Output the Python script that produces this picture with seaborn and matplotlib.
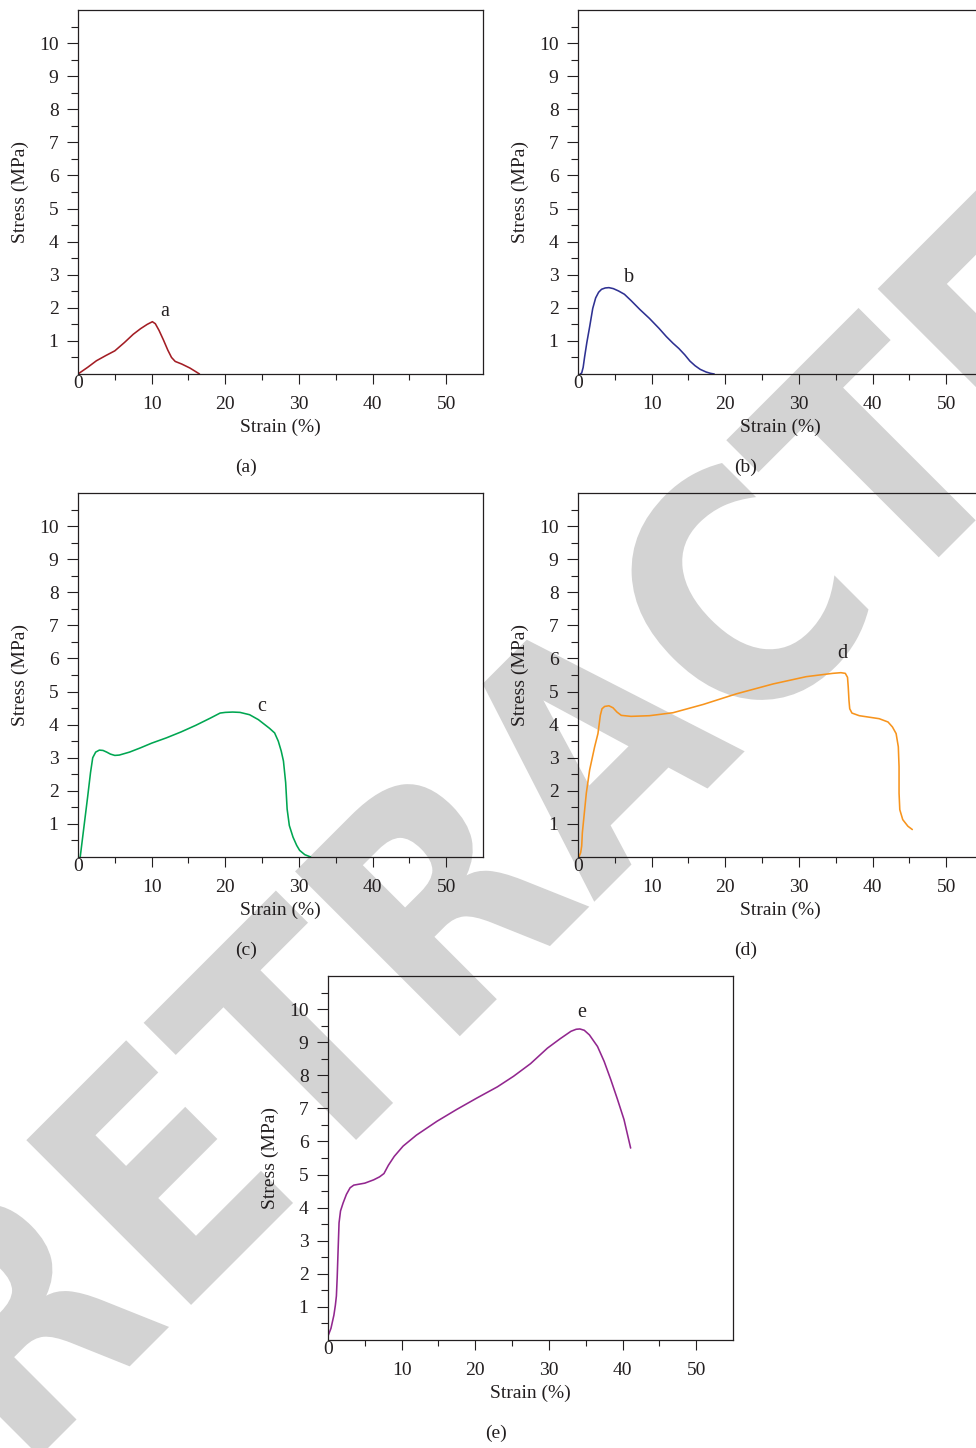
import numpy as np
import matplotlib
matplotlib.use("Agg")
import matplotlib.pyplot as plt
import seaborn as sns
from matplotlib.textpath import TextPath
from matplotlib.patches import PathPatch
from matplotlib.transforms import Affine2D, IdentityTransform, offset_copy
from matplotlib.font_manager import FontProperties

# ---------------- data ----------------
strain_a = [0, 1.3, 2.5, 3.8, 5.0, 6.3, 7.5, 8.5, 9.4, 10.1, 10.5, 11.0, 11.6, 12.2, 12.7, 13.2, 14.1, 15.2, 16.0, 16.5]
stress_a = [0, 0.2, 0.4, 0.56, 0.7, 0.95, 1.2, 1.37, 1.5, 1.58, 1.52, 1.32, 1.03, 0.72, 0.5, 0.38, 0.3, 0.18, 0.07, 0.0]

strain_b = [0.3, 0.5, 0.7, 0.9, 1.2, 1.6, 2.0, 2.4, 2.8, 3.2, 3.7, 4.2, 4.8, 5.5, 6.3, 7.2, 8.4, 9.7, 11.0,
            12.0, 12.9, 13.7, 14.5, 15.2, 15.9, 16.6, 17.4, 18.0, 18.5]
stress_b = [0, 0.03, 0.2, 0.52, 0.95, 1.45, 1.98, 2.3, 2.47, 2.56, 2.6, 2.61, 2.58, 2.51, 2.41, 2.22, 1.95, 1.68, 1.38,
            1.13, 0.93, 0.77, 0.58, 0.39, 0.25, 0.14, 0.06, 0.02, 0]

strain_c = [0.3, 0.8, 1.3, 1.7, 2.0, 2.4, 2.9, 3.4, 3.9, 4.4, 5.0, 5.6, 7.0, 8.5, 10.0, 12.0, 14.0, 16.0, 18.0,
            19.3, 20.0, 21.0, 22.0, 23.3, 24.5, 26.0, 26.7, 27.2, 27.6, 27.9, 28.2, 28.4, 28.7, 29.2, 29.7,
            30.1, 30.8, 31.6]
stress_c = [0, 0.9, 1.8, 2.55, 3.0, 3.17, 3.23, 3.22, 3.17, 3.11, 3.07, 3.08, 3.17, 3.3, 3.44, 3.6, 3.78, 3.98, 4.2,
            4.35, 4.37, 4.38, 4.37, 4.3, 4.15, 3.89, 3.75, 3.5, 3.2, 2.9, 2.25, 1.45, 0.95, 0.6, 0.35,
            0.2, 0.07, 0]

strain_d = [0.0, 0.14, 0.36, 0.5, 0.59, 0.77, 1.13, 1.58, 2.26, 2.71, 3.03, 3.26, 3.62, 4.2, 4.75, 5.29, 5.88, 7.2,
            9.7, 12.9, 17.0, 21.5, 26.5, 31.0, 34.6, 35.7, 36.3, 36.6, 36.7, 36.8, 36.9, 37.2, 38.2, 40.9,
            42.1, 42.7, 43.2, 43.5, 43.6, 43.6, 43.7, 44.1, 44.8, 45.4]
stress_d = [0.0, 0.01, 0.13, 0.33, 0.73, 1.13, 1.93, 2.63, 3.33, 3.73, 4.28, 4.48, 4.55, 4.57, 4.51, 4.38, 4.28, 4.25,
            4.27, 4.36, 4.61, 4.93, 5.23, 5.45, 5.55, 5.57, 5.55, 5.43, 5.13, 4.73, 4.48, 4.35, 4.27, 4.18,
            4.08, 3.93, 3.73, 3.33, 2.73, 1.93, 1.43, 1.13, 0.93, 0.83]

strain_e = [0, 0.4, 0.8, 1.0, 1.14, 1.25, 1.36, 1.5, 1.7, 2.05, 2.5, 3.0, 3.5, 5.0, 6.2, 7.0, 7.6, 8.2, 9.0, 10.2,
            12.0, 14.8, 17.5, 20.2, 23.0, 25.2, 27.5, 29.8, 31.5, 33.0, 33.7, 34.2, 34.8, 35.5, 36.6, 37.5,
            38.4, 39.3, 40.2, 41.1]
stress_e = [0.12, 0.35, 0.75, 1.05, 1.33, 1.9, 2.64, 3.54, 3.9, 4.14, 4.4, 4.6, 4.68, 4.74, 4.84, 4.93, 5.03, 5.28,
            5.55, 5.86, 6.19, 6.61, 6.97, 7.31, 7.65, 7.97, 8.35, 8.82, 9.1, 9.33, 9.39, 9.40, 9.36, 9.22,
            8.87, 8.42, 7.87, 7.28, 6.66, 5.8]

curve_names = ["a", "b", "c", "d", "e"]
captions = ["(a)", "(b)", "(c)", "(d)", "(e)"]
label_pos = [(11.8, 1.88), (6.9, 2.93), (25.0, 4.55), (35.9, 6.15), (34.4, 9.9)]
x_major = [10, 20, 30, 40, 50]
x_minor = [5, 15, 25, 35, 45]
y_major = [1, 2, 3, 4, 5, 6, 7, 8, 9, 10]
y_minor = [0.5, 1.5, 2.5, 3.5, 4.5, 5.5, 6.5, 7.5, 8.5, 9.5, 10.5]
watermark = "RETRACTED"

colors = ["#a31d24", "#2e3192", "#00a651", "#f7941d", "#92278f"]
data = [(strain_a, stress_a), (strain_b, stress_b), (strain_c, stress_c),
        (strain_d, stress_d), (strain_e, stress_e)]

# ---------------- style ----------------
sns.set_style("ticks")
plt.rcParams['font.family'] = ['Liberation Serif', 'DejaVu Serif']
INK = "#231f20"
FS = 14

W, H = 976, 1448
fig = plt.figure(figsize=(W / 100, H / 100), dpi=100)
fig.patch.set_facecolor("white")

# axes boxes in pixels: left, top, right, bottom
boxes = [(78, 10, 483, 374), (578, 10, 983, 374),
         (78, 493, 483, 857), (578, 493, 983, 857),
         (328, 976, 733, 1340)]

# ---------------- watermark behind everything ----------------
fp = FontProperties(family='DejaVu Sans', weight='bold')
tp = TextPath((0, 0), watermark, size=100, prop=fp)
full_right = tp.vertices[:, 0].max()


def left_of(sub):
    p = TextPath((0, 0), sub, size=100, prop=fp)
    return p.vertices[:, 0].min() + (full_right - p.vertices[:, 0].max())


e1 = left_of(watermark[1:])      # first E
e2 = left_of(watermark[-2:])     # second E
sx = 1204.0 / (e2 - e1)
sy = 233.0 / 72.9
tr = (Affine2D().translate(-e1, 0).scale(sx, sy).rotate_deg(45)
      .translate(173, H - 1323))
wm = PathPatch(tr.transform_path(tp), facecolor="#d3d3d3", edgecolor="none",
               transform=IdentityTransform(), zorder=-5)
fig.add_artist(wm)

for i, (l, t, r, b) in enumerate(boxes):
    ax = fig.add_axes([l / W, (H - b) / H, (r - l) / W, (b - t) / H])
    ax.set_facecolor("none")
    xs, ys = data[i]
    sns.lineplot(x=xs, y=ys, ax=ax, color=colors[i], linewidth=1.15,
                 sort=False, estimator=None)
    ax.set_xlim(0, 55)
    ax.set_ylim(0, 11)
    for sp in ax.spines.values():
        sp.set_visible(True)
        sp.set_color(INK)
        sp.set_linewidth(0.9)
    ax.set_xticks(x_major)
    ax.set_xticklabels([str(v) for v in x_major])
    ax.set_xticks(x_minor, minor=True)
    ax.set_yticks(y_major)
    ax.set_yticklabels([str(v) for v in y_major])
    ax.set_yticks(y_minor, minor=True)
    ax.tick_params(axis='x', which='major', direction='out', length=7, width=0.8,
                   pad=8.5, labelsize=FS, color=INK, labelcolor=INK)
    ax.tick_params(axis='x', which='minor', direction='out', length=4.2, width=0.8,
                   color=INK)
    ax.tick_params(axis='y', which='major', direction='out', length=8, width=0.8,
                   pad=6.0, labelsize=FS, color=INK, labelcolor=INK)
    ax.tick_params(axis='y', which='minor', direction='out', length=5.3, width=0.8,
                   color=INK)
    ax.text(0, 0, "0", transform=offset_copy(ax.transData, fig=fig, x=0, y=-1, units='dots'),
            ha='center', va='top', fontsize=FS, color=INK)
    ax.set_xlabel("Strain (%)", fontsize=FS, color=INK)
    ax.set_ylabel("Stress (MPa)", fontsize=FS, color=INK)
    ax.xaxis.set_label_coords(0.5, -0.123)
    ax.yaxis.set_label_coords(-0.121, 0.5)
    lx, ly = label_pos[i]
    ax.text(lx, ly, curve_names[i], ha='center', va='center', fontsize=FS + 0.5, color=INK)
    ax.text(168 / 405, -(467 - 374) / 364, captions[i], transform=ax.transAxes,
            ha='center', va='center', fontsize=FS, color=INK)

fig.savefig("out.png", dpi=100, facecolor="white")
